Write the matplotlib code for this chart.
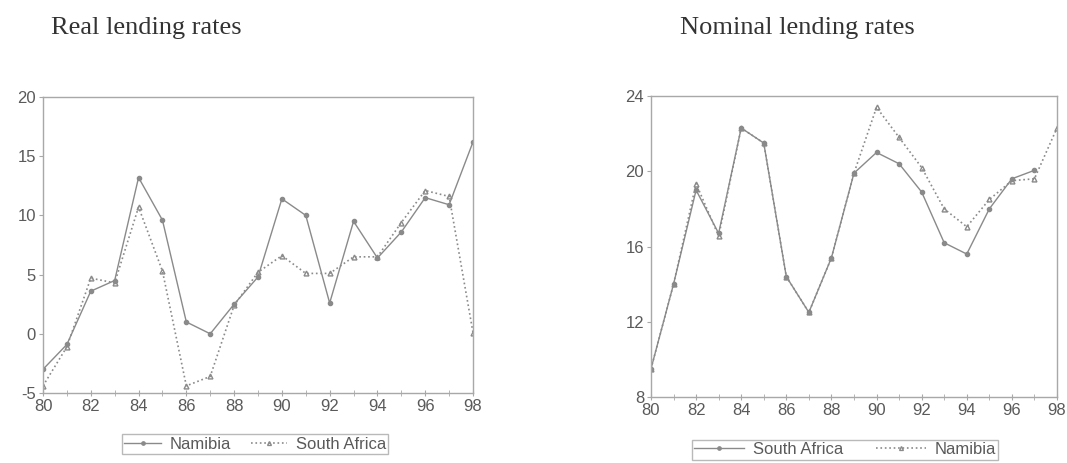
import numpy as np
import matplotlib
matplotlib.use("Agg")
import matplotlib.pyplot as plt

years = list(range(80, 99))

# Real lending rates
real_namibia = [-3.0, -0.9, 3.6, 4.5, 13.2, 9.6, 1.0, 0.0, 2.5, 4.8, 11.4,
                10.0, 2.6, 9.5, 6.4, 8.6, 11.5, 10.9, 16.2]
real_sa = [-4.4, -1.1, 4.7, 4.3, 10.7, 5.3, -4.4, -3.6, 2.4, 5.2, 6.6,
           5.1, 5.1, 6.5, 6.5, 9.4, 12.1, 11.6, 0.1]

# Nominal lending rates
nom_sa = [9.5, 14.0, 19.0, 16.7, 22.3, 21.5, 14.4, 12.5, 15.4, 19.9, 21.0,
          20.4, 18.9, 16.2, 15.6, 18.0, 19.6, 20.05, np.nan]
nom_namibia = [9.5, 14.0, 19.35, 16.55, 22.3, 21.5, 14.4, 12.5, 15.4, 19.9, 23.4,
               21.8, 20.2, 18.0, 17.05, 18.5, 19.5, 19.6, 22.3]

line_c = "#8a8a8a"
text_c = "#5a5a5a"
spine_c = "#a8a8a8"

plt.rcParams['font.family'] = ['Liberation Sans', 'DejaVu Sans']
plt.rcParams['axes.unicode_minus'] = False

fig = plt.figure(figsize=(10.67, 4.63), dpi=100)
ax1 = fig.add_axes([0.0403, 0.1512, 0.403, 0.6393])
ax2 = fig.add_axes([0.6101, 0.1425, 0.3805, 0.6501])


def style(ax, yticks):
    for s in ax.spines.values():
        s.set_color(spine_c)
        s.set_linewidth(1.0)
    ax.set_xlim(80, 98)
    ax.set_xticks(range(80, 99, 2))
    ax.set_xticks(range(80, 99), minor=True)
    ax.set_yticks(yticks)
    ax.set_ylim(yticks[0], yticks[-1])
    ax.tick_params(axis='x', which='both', direction='inout', length=4, color=spine_c,
                   labelsize=12, labelcolor=text_c, pad=2)
    ax.tick_params(axis='y', direction='out', length=3, color=spine_c,
                   labelsize=12, labelcolor=text_c, pad=2)


ax1.plot(years, real_namibia, '-', color=line_c, lw=1.0, marker='o', ms=3,
         label='Namibia')
ax1.plot(years, real_sa, ':', color=line_c, lw=1.2, marker='^', ms=3.5,
         mfc='none', label='South Africa')
style(ax1, [-5, 0, 5, 10, 15, 20])

ax2.plot(years, nom_sa, '-', color=line_c, lw=1.0, marker='o', ms=3,
         label='South Africa')
ax2.plot(years, nom_namibia, ':', color=line_c, lw=1.2, marker='^', ms=3.5,
         mfc='none', label='Namibia')
style(ax2, [8, 12, 16, 20, 24])

for ax, cx, cy, hl, cs in [(ax1, 0.239, 0.04, 2.2, 1.2), (ax2, 0.792, 0.029, 3.0, 2.0)]:
    leg = ax.legend(loc='center', bbox_to_anchor=(cx, cy), bbox_transform=fig.transFigure,
                    ncol=2, fontsize=12, frameon=True, fancybox=False, handlelength=hl,
                    handletextpad=0.5, columnspacing=cs, borderpad=0.15, markerscale=0.8)
    leg.get_frame().set_edgecolor(spine_c)
    leg.get_frame().set_linewidth(1.0)
    for t in leg.get_texts():
        t.set_color(text_c)

fig.text(0.048, 0.94, 'Real lending rates', family='Liberation Serif', fontsize=19,
         color='#333333', va='center', ha='left')
fig.text(0.637, 0.94, 'Nominal lending rates', family='Liberation Serif', fontsize=19,
         color='#333333', va='center', ha='left')

fig.savefig('out.png', dpi=100)
